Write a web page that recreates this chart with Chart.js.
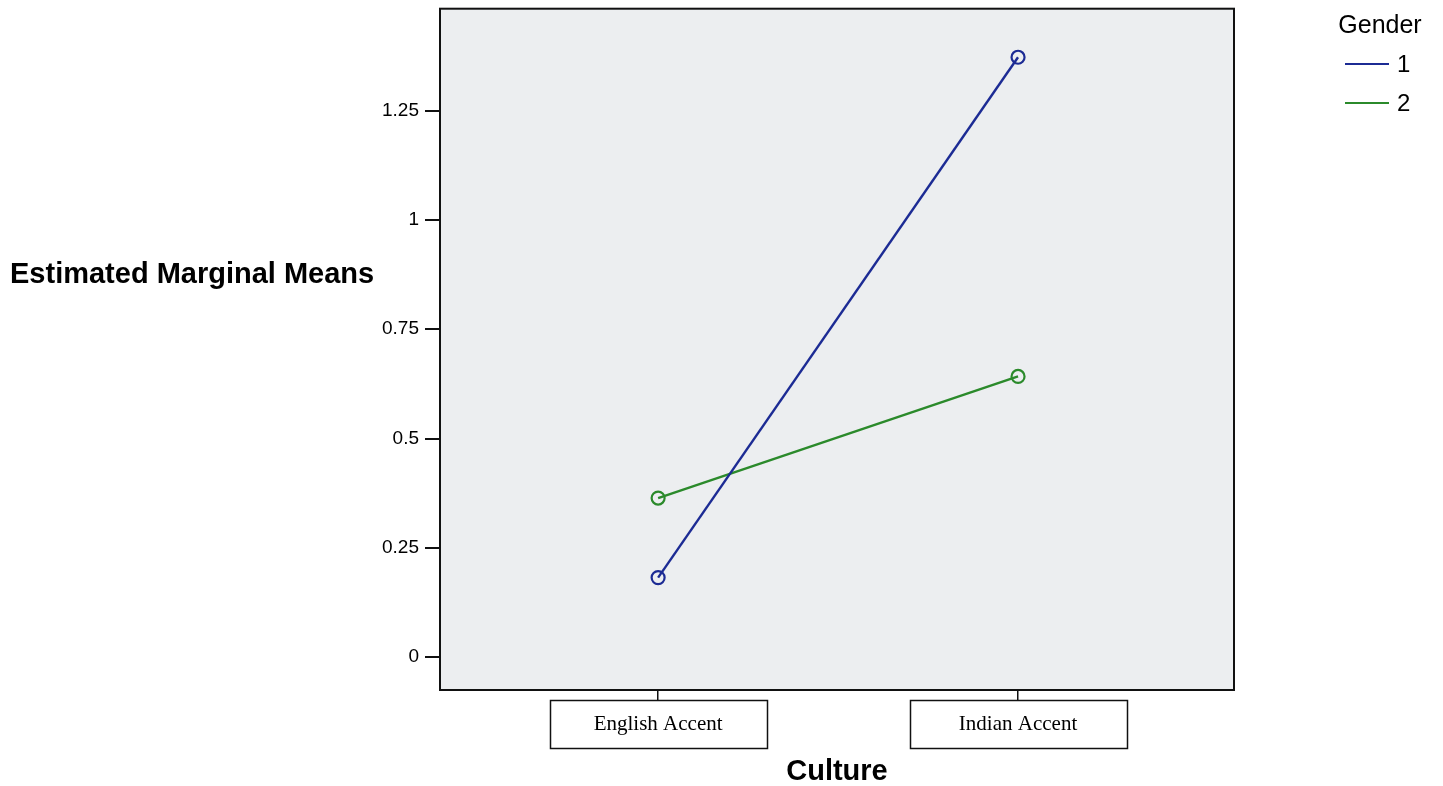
<!DOCTYPE html>
<html>
<head>
<meta charset="utf-8">
<script src="https://cdn.jsdelivr.net/npm/chart.js@4"></script>
<style>
  html, body { margin: 0; padding: 0; background: #ffffff; }
  #wrap { width: 1443px; height: 786px; position: relative; }
</style>
</head>
<body>
<div id="wrap"><canvas id="c" width="1443" height="786"></canvas></div>
<script>
// Estimated marginal means by culture (accent) for each gender
const categories = ['English Accent', 'Indian Accent'];
const genderLabels = ['1', '2'];
const gender1Means = [0.182, 1.372];
const gender2Means = [0.364, 0.642];
const yTicks = [0, 0.25, 0.5, 0.75, 1, 1.25];
const seriesColors = ['#1c2b94', '#2b8a2b'];

const SANS = '"Liberation Sans", Arial, Helvetica, sans-serif';
const SERIF = '"Liberation Serif", "Times New Roman", serif';

function toPoints(values) {
  return values.map((v, i) => ({ x: i, y: v }));
}

const plotBackground = {
  id: 'plotBackground',
  beforeDraw(chart) {
    const { ctx, chartArea: a } = chart;
    ctx.save();
    ctx.fillStyle = '#eceef0';
    ctx.fillRect(a.left, a.top, a.right - a.left, a.bottom - a.top);
    ctx.restore();
  }
};

const plotFrame = {
  id: 'plotFrame',
  afterDraw(chart) {
    const { ctx, chartArea: a } = chart;
    ctx.save();
    ctx.strokeStyle = '#111111';
    ctx.lineWidth = 2;
    ctx.strokeRect(a.left, a.top, a.right - a.left, a.bottom - a.top);
    ctx.restore();
  }
};

// Boxes around the category labels under the x axis
const categoryBoxes = {
  id: 'categoryBoxes',
  afterDraw(chart) {
    const { ctx, chartArea: a } = chart;
    const xs = chart.scales.x;
    ctx.save();
    ctx.strokeStyle = '#111111';
    ctx.lineWidth = 1.5;
    categories.forEach((_, i) => {
      const px = xs.getPixelForValue(i);
      ctx.strokeRect(Math.round(px - 108) + 0.5, a.bottom + 10.5, 217, 48);
    });
    ctx.restore();
  }
};

// Horizontal y-axis title on the left
const sideTitle = {
  id: 'sideTitle',
  afterDraw(chart) {
    const { ctx, chartArea: a } = chart;
    ctx.save();
    ctx.fillStyle = '#000000';
    ctx.font = 'bold 29px ' + SANS;
    ctx.textAlign = 'left';
    ctx.textBaseline = 'middle';
    ctx.fillText('Estimated Marginal Means', 10, a.top + 266);
    ctx.restore();
  }
};

// Legend block at the top right
const genderLegend = {
  id: 'genderLegend',
  afterDraw(chart) {
    const { ctx } = chart;
    ctx.save();
    ctx.fillStyle = '#000000';
    ctx.font = '25px ' + SANS;
    ctx.textAlign = 'center';
    ctx.textBaseline = 'middle';
    ctx.fillText('Gender', 1380, 26);
    ctx.font = '24px ' + SANS;
    chart.data.datasets.forEach((ds, i) => {
      const y = 64 + i * 39;
      ctx.strokeStyle = ds.borderColor;
      ctx.lineWidth = 2;
      ctx.beginPath();
      ctx.moveTo(1345, y);
      ctx.lineTo(1389, y);
      ctx.stroke();
      ctx.textAlign = 'left';
      ctx.fillText(ds.label, 1397, y + 1);
    });
    ctx.restore();
  }
};

const seriesValues = [gender1Means, gender2Means];

new Chart(document.getElementById('c'), {
  type: 'line',
  data: {
    datasets: genderLabels.map((g, i) => ({
      label: g,
      data: toPoints(seriesValues[i]),
      borderColor: seriesColors[i],
      borderWidth: 2.4,
      pointRadius: 6.5,
      pointHoverRadius: 6.5,
      pointBorderWidth: 2.2,
      pointBorderColor: seriesColors[i],
      pointBackgroundColor: 'rgba(0,0,0,0)',
      tension: 0,
      fill: false
    }))
  },
  options: {
    responsive: false,
    animation: false,
    devicePixelRatio: 1,
    layout: { padding: { top: 7, right: 209, bottom: 0, left: 0 } },
    plugins: {
      legend: { display: false },
      tooltip: { enabled: false },
      title: { display: false }
    },
    scales: {
      x: {
        type: 'linear',
        min: -0.606,
        max: 1.6,
        afterBuildTicks(scale) {
          scale.ticks = categories.map((_, i) => ({ value: i }));
        },
        afterFit(scale) {
          scale.height = 96;
          scale.paddingLeft = 0;
          scale.paddingRight = 0;
        },
        ticks: {
          callback: (v) => categories[v],
          font: { family: SERIF, size: 21 },
          color: '#000000',
          padding: 12,
          maxRotation: 0,
          autoSkip: false
        },
        grid: {
          drawOnChartArea: false,
          drawTicks: true,
          tickLength: 10,
          color: '#111111',
          lineWidth: 1.5
        },
        border: { display: true, color: '#111111', width: 2 },
        title: {
          display: true,
          text: 'Culture',
          color: '#000000',
          font: { family: SANS, size: 29, weight: 'bold' },
          padding: { top: 0, bottom: -3 }
        }
      },
      y: {
        type: 'linear',
        min: -0.075,
        max: 1.483,
        afterBuildTicks(scale) {
          scale.ticks = yTicks.map(v => ({ value: v }));
        },
        afterFit(scale) {
          scale.width = 440;
          scale.paddingTop = 0;
          scale.paddingBottom = 0;
        },
        ticks: {
          callback: (v) => String(v),
          font: { family: SANS, size: 19 },
          color: '#000000',
          padding: 6
        },
        grid: {
          drawOnChartArea: false,
          drawTicks: true,
          tickLength: 15,
          color: '#111111',
          lineWidth: 2
        },
        border: { display: true, color: '#111111', width: 2 }
      }
    }
  },
  plugins: [plotBackground, plotFrame, categoryBoxes, sideTitle, genderLegend]
});
</script>
</body>
</html>
